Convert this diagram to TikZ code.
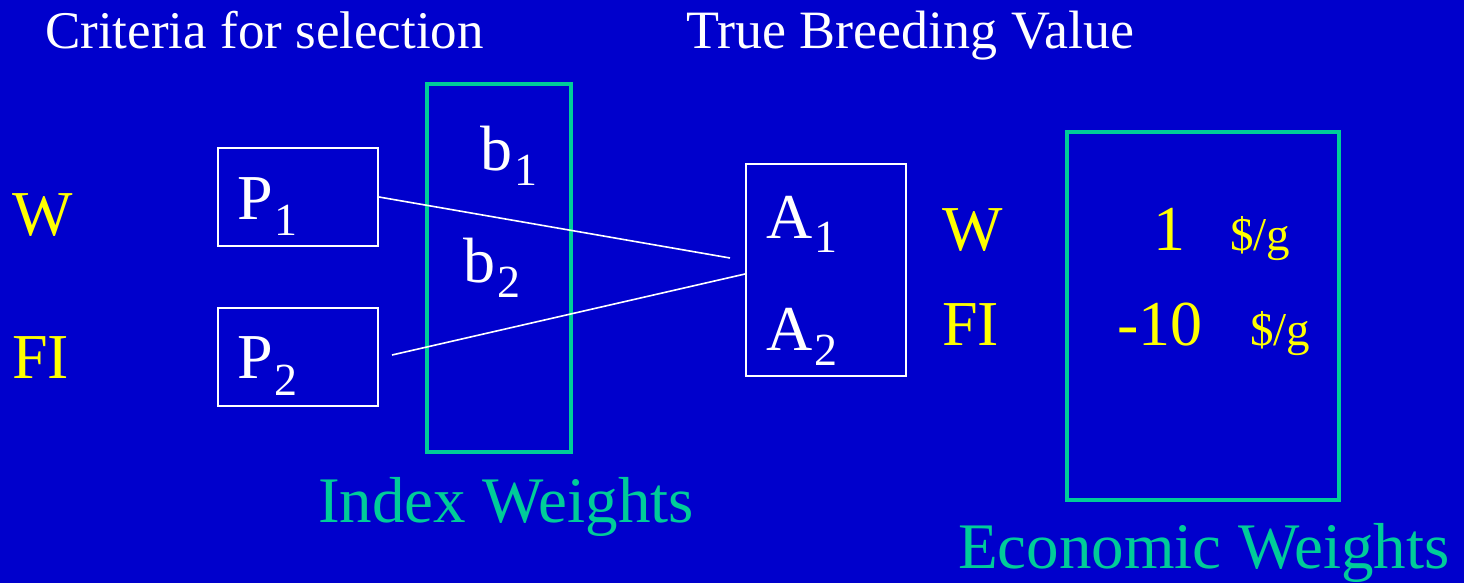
\documentclass[tikz,border=0pt]{standalone}
\usepackage{fontspec}
\setmainfont{Liberation Serif}
\definecolor{bgblue}{RGB}{0,0,204}
\definecolor{wgreen}{RGB}{0,204,153}
\definecolor{wyellow}{RGB}{255,255,0}
\newcommand{\fsz}[1]{\fontsize{#1}{#1}\selectfont}
\newcommand{\mysub}[3]{#1\hspace{2pt}\raisebox{-#3pt}{\fsz{46}#2}}
\tikzset{
  txt/.style={inner sep=0pt, anchor=base west, text=white, font=\fsz{64}},
  hdr/.style={txt, font=\fsz{54}},
  ylw/.style={txt, text=wyellow},
  unit/.style={txt, text=wyellow, font=\fsz{47}},
  grn/.style={txt, text=wgreen, font=\fsz{65}},
  wbox/.style={draw=white, line width=2pt, inner sep=0pt, anchor=north west},
  gbox/.style={draw=wgreen, line width=4pt, inner sep=0pt, anchor=north west},
  link/.style={draw=white, line width=1.6pt}
}
\begin{document}
\begin{tikzpicture}[x=1pt,y=-1pt]
\fill[bgblue] (0,0) rectangle (1464,583);
\useasboundingbox (0,0) rectangle (1464,583);
% headers
\node[hdr, font=\fsz{53}] (crit) at (45,49) {Criteria for selection};
\node[hdr] (tbv) at (686,49) {True Breeding Value};
% left labels
\node[ylw] (wl) at (12,235) {W};
\node[ylw] (fil) at (12,378) {FI};
% P boxes
\node[wbox, minimum width=160pt, minimum height=98pt] (p1box) at (217,147) {};
\node[wbox, minimum width=160pt, minimum height=98pt] (p2box) at (217,307) {};
\node[txt] (p1) at (237,219) {\mysub{P}{1}{16}};
\node[txt] (p2) at (237,378) {\mysub{P}{2}{17}};
% index weights box
\node[gbox, minimum width=144pt, minimum height=368pt] (ibox) at (425,82) {};
\node[txt] (b1) at (480,170) {\mysub{b}{1}{15}};
\node[txt] (b2) at (463,282) {\mysub{b}{2}{15}};
\node[grn] (iw) at (318,522) {Index Weights};
% A box
\node[wbox, minimum width=160pt, minimum height=212pt] (abox) at (745,163) {};
\node[txt] (a1) at (766,238) {\mysub{A}{1}{14}};
\node[txt] (a2) at (766,350) {\mysub{A}{2}{15}};
% connectors
\coordinate (e1) at (730,258);
\coordinate (s2) at (392,355);
\coordinate (e2) at (745,274);
\draw[link] (p1box.east) -- (e1);
\draw[link] (s2) -- (e2);
% right labels
\node[ylw] (wr) at (942,250) {W};
\node[ylw] (fir) at (942,345) {FI};
% economic weights box
\node[gbox, minimum width=272pt, minimum height=368pt] (ebox) at (1065,130) {};
\node[ylw] (v1) at (1153,250) {1};
\node[unit] (u1) at (1230,250) {\$/g};
\node[ylw] (v2) at (1117,345) {-10};
\node[unit] (u2) at (1250,345) {\$/g};
\node[grn] (ew) at (958,568) {Economic Weights};
\end{tikzpicture}
\end{document}
